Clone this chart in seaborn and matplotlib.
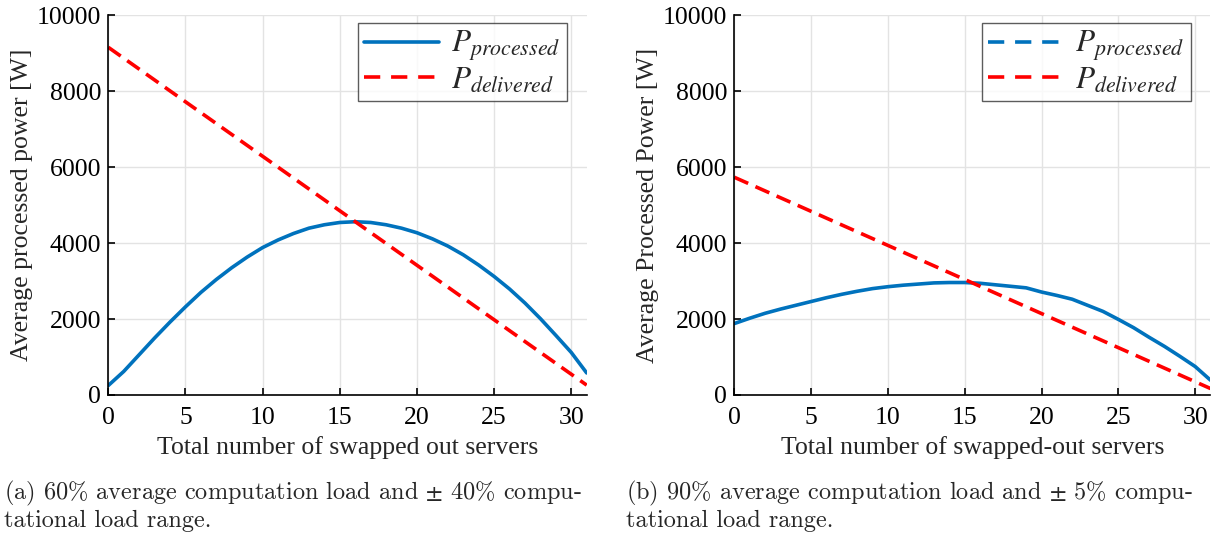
import matplotlib
matplotlib.use('Agg')
import matplotlib.pyplot as plt
from matplotlib.lines import Line2D
import seaborn as sns
import pandas as pd

# servers swapped out
servers = list(range(32))

# (a) 60% load, +-40% range
proc_a = [250, 620, 1060, 1500, 1920, 2320, 2700, 3040, 3350, 3630, 3880, 4080,
          4250, 4390, 4480, 4540, 4560, 4540, 4480, 4390, 4270, 4110, 3920, 3690,
          3420, 3120, 2790, 2420, 2010, 1570, 1120, 580]
deliv_a_x = [0, 31]
deliv_a = [9150, 260]

# (b) 90% load, +-5% range
proc_b = [1880, 2020, 2150, 2260, 2360, 2460, 2560, 2650, 2730, 2800, 2850, 2890,
          2920, 2950, 2960, 2960, 2940, 2900, 2860, 2820, 2710, 2620, 2520, 2360,
          2200, 1990, 1770, 1520, 1280, 1020, 750, 390]
deliv_b_x = [0, 31]
deliv_b = [5730, 170]

ylabels = ['Average processed power [W]', 'Average Processed Power [W]']
xlabels = ['Total number of swapped out servers', 'Total number of swapped-out servers']
captions = ['(a) 60% average computation load and $\\pm$ 40% compu-\ntational load range.',
            '(b) 90% average computation load and $\\pm$ 5% compu-\ntational load range.']
xticks = [0, 5, 10, 15, 20, 25, 30]
yticks = [0, 2000, 4000, 6000, 8000, 10000]

sns.set_style('white')
plt.rcParams['font.family'] = ['Liberation Serif', 'DejaVu Serif']
plt.rcParams['mathtext.fontset'] = 'stix'

blue = '#0072BD'
red = '#FF0000'

fig = plt.figure(figsize=(12.21, 5.34), dpi=100)
axes = [fig.add_axes([0.0887, 0.2603, 0.3918, 0.7116]),
        fig.add_axes([0.6014, 0.2603, 0.3900, 0.7116])]

panels = [(proc_a, deliv_a_x, deliv_a), (proc_b, deliv_b_x, deliv_b)]
for i, ax in enumerate(axes):
    proc, dx, dv = panels[i]
    df_p = pd.DataFrame({'x': servers, 'y': proc})
    df_d = pd.DataFrame({'x': dx, 'y': dv})
    sns.lineplot(data=df_p, x='x', y='y', ax=ax, color=blue, linewidth=2.6)
    sns.lineplot(data=df_d, x='x', y='y', ax=ax, color=red, linewidth=2.6,
                 dashes=False, linestyle=(0, (4.2, 2.2)))
    ax.set_xlim(0, 31)
    ax.set_ylim(0, 10000)
    ax.set_xticks(xticks)
    ax.set_yticks(yticks)
    ax.grid(True, color='#e3e3e3', linewidth=1.0)
    ax.set_axisbelow(True)
    for s in ['top', 'right']:
        ax.spines[s].set_visible(False)
    for s in ['left', 'bottom']:
        ax.spines[s].set_color('black')
        ax.spines[s].set_linewidth(1.2)
    ax.tick_params(direction='in', length=5, width=1.2, labelsize=18.5,
                   left=True, bottom=True, colors='black')
    ax.tick_params(axis='x', pad=9)
    ax.tick_params(axis='y', pad=5)
    ax.set_xlabel(xlabels[i], fontsize=18.5, labelpad=5)
    ax.set_ylabel(ylabels[i], fontsize=18.5, labelpad=3)

    proc_style = '-' if i == 0 else (0, (4.5, 3))
    handles = [Line2D([], [], color=blue, linewidth=2.6, linestyle=proc_style),
               Line2D([], [], color=red, linewidth=2.6, linestyle=(0, (4.5, 3)))]
    leg = ax.legend(handles, [r'$P_{processed}$', r'$P_{delivered}$'],
                    loc='upper right', fontsize=22.5, frameon=True, fancybox=False,
                    handlelength=2.4, handletextpad=0.4, borderpad=0.2,
                    labelspacing=0.05, borderaxespad=0.25,
                    bbox_to_anchor=(0.975, 1.0))
    leg.get_frame().set_edgecolor('#333333')
    leg.get_frame().set_linewidth(1.0)

fig.text(0.003, 0.004, captions[0], fontsize=17.5, family=['cmr10', 'DejaVu Serif'],
         ha='left', va='bottom', linespacing=1.12)
fig.text(0.513, 0.004, captions[1], fontsize=17.5, family=['cmr10', 'DejaVu Serif'],
         ha='left', va='bottom', linespacing=1.12)

fig.savefig('out.png', dpi=100)
